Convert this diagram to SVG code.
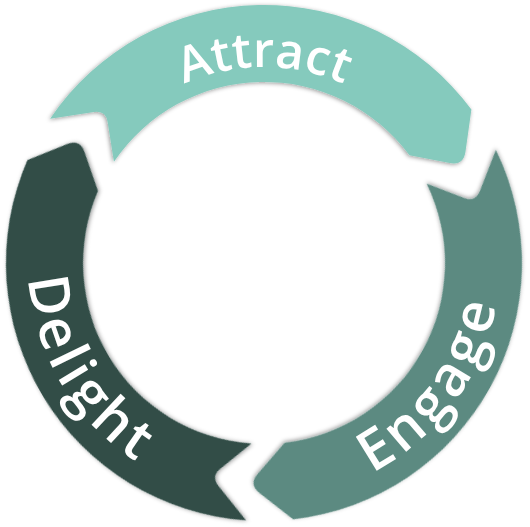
<svg xmlns="http://www.w3.org/2000/svg" xmlns:xlink="http://www.w3.org/1999/xlink" width="530" height="527" viewBox="0 0 530 527">
  <style>
    .label { fill: #ffffff; font-family: "Open Sans", "Liberation Sans", sans-serif; font-weight: 600; }
  </style>
  <defs>
    <filter id="shadow" x="-10%" y="-10%" width="120%" height="120%">
      <feDropShadow dx="-1" dy="1" stdDeviation="2" flood-color="#000000" flood-opacity="0.4"/>
    </filter>
    <path id="seg" d="M50.11,118.73 A258,258 0 0 1 471.40,109.54 L465.47,151.82 Q463.53,165.68 449.78,163.05 L409.50,155.34 A181,181 0 0 0 113.94,161.79 L107.63,122.01 Q105.75,110.17 93.89,111.99 Z"/>
    <path id="arcAttract" d="M79.82,195.96 A196,196 0 0 1 448.18,195.96"/>
    <path id="arcDelight" d="M40.90,186.17 A236,236 0 0 0 227.08,496.10"/>
    <path id="arcEngage" d="M280.46,498.43 A236,236 0 0 0 493.00,205.91"/>
  </defs>
  <g id="connectors"/>
  <g id="attract">
    <use xlink:href="#seg" href="#seg" fill="#85CABD" filter="url(#shadow)"/>
    <text class="label" font-size="49"><textPath xlink:href="#arcAttract" href="#arcAttract" startOffset="50%" text-anchor="middle">Attract</textPath></text>
  </g>
  <g id="engage">
    <use xlink:href="#seg" href="#seg" fill="#5B8A81" filter="url(#shadow)" transform="rotate(120 264 263)"/>
    <text class="label" font-size="56" letter-spacing="4.5"><textPath xlink:href="#arcEngage" href="#arcEngage" startOffset="50%" text-anchor="middle">Engage</textPath></text>
  </g>
  <g id="delight">
    <use xlink:href="#seg" href="#seg" fill="#304D47" filter="url(#shadow)" transform="rotate(240 264 263)"/>
    <text class="label" font-size="56" letter-spacing="4.5"><textPath xlink:href="#arcDelight" href="#arcDelight" startOffset="50%" text-anchor="middle">Delight</textPath></text>
  </g>
</svg>
